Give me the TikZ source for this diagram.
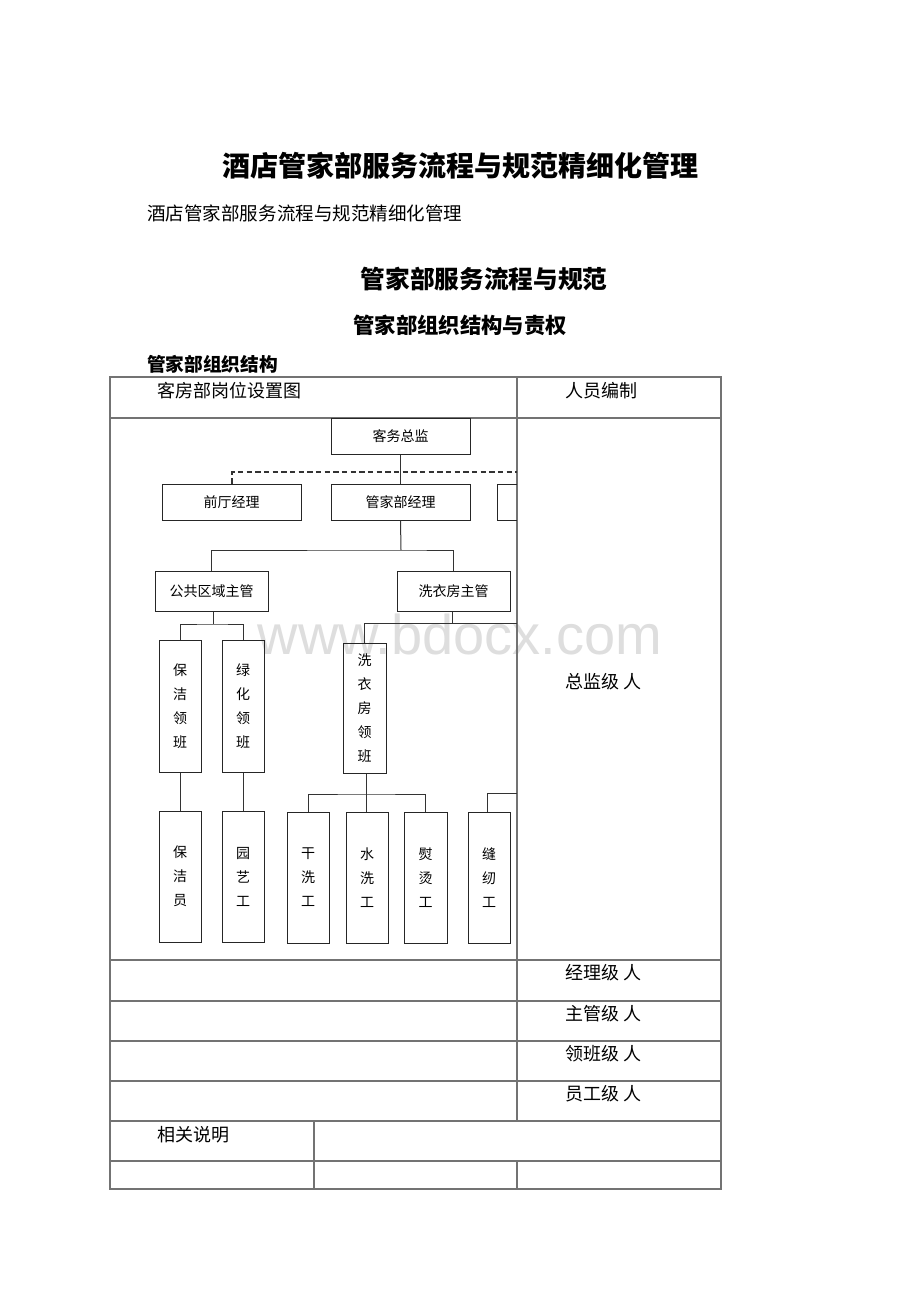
\documentclass[tikz,border=0pt]{standalone}
\usepackage{fontspec}
\setmainfont{Noto Sans CJK SC}
\newfontfamily\wmfont{Liberation Sans}
\newcommand\orgbox[6]{\node[box, minimum width={(#4-#2)*0.75pt}, minimum height={(#5-#3)*0.75pt}] (#1) at ({(#2+#4)/2},{(#3+#5)/2}) {#6};}
\begin{document}
\begin{tikzpicture}[x=0.75pt,y=-0.75pt,
  box/.style={draw=black!85, line width=0.75pt, inner sep=0pt, align=center,
    font=\fontsize{10.5}{18}\selectfont},
  tline/.style={draw=black!55, line width=0.8pt},
  conn/.style={draw=black!80, line width=0.75pt},
  ttext/.style={font=\fontsize{13.5}{16}\selectfont, inner sep=0pt, anchor=west},
  hd/.style={inner sep=0pt}]
\useasboundingbox (0,0) rectangle (920,1302);
\fill[white] (0,0) rectangle (920,1302);

% watermark
\node[hd, text=black!13, font=\wmfont\fontsize{42}{42}\selectfont] (wm) at (460,634) {www.bdocx.com};

% headings
\node[hd, font=\fontsize{21}{24}\selectfont\bfseries] (t1) at (460,166) {酒店管家部服务流程与规范精细化管理};
\node[hd, anchor=west, font=\fontsize{13.9}{16}\selectfont] (t2) at (147,213) {酒店管家部服务流程与规范精细化管理};
\node[hd, font=\fontsize{18.5}{20}\selectfont\bfseries] (t3) at (484,279) {管家部服务流程与规范};
\node[hd, font=\fontsize{16}{18}\selectfont\bfseries] (t4) at (460,325) {管家部组织结构与责权};
\node[hd, anchor=west, font=\fontsize{14}{16}\selectfont\bfseries] (t5) at (147,364) {管家部组织结构};

% table
\draw[tline] (110,377) rectangle (721,1189);
\foreach \yy in {418,960,1001,1041,1081,1121,1161} \draw[tline] (110,\yy) -- (721,\yy);
\draw[tline] (517,377) -- (517,1121);
\draw[tline] (517,1161) -- (517,1189);
\draw[tline] (314,1121) -- (314,1189);

\node[ttext] (h1) at (157,391) {客房部岗位设置图};
\node[ttext] (h2) at (565,391) {人员编制};
\node[ttext] (r0) at (565,682) {总监级 人};
\node[ttext] (r1) at (565,973) {经理级 人};
\node[ttext] (r2) at (565,1014) {主管级 人};
\node[ttext] (r3) at (565,1054) {领班级 人};
\node[ttext] (r4) at (565,1094) {员工级 人};
\node[ttext] (r5) at (157,1135) {相关说明};

% org chart boxes
\orgbox{kwzj}{331}{418}{470}{454}{客务总监}
\orgbox{qtjl}{162}{484}{301}{520}{前厅经理}
\orgbox{gjbjl}{331}{484}{470}{520}{管家部经理}
\draw[draw=black!85, line width=0.75pt] (517,484) -- (497,484) -- (497,520) -- (517,520);
\orgbox{ggqy}{155}{571}{268}{611}{公共区域主管}
\orgbox{xyfzg}{397}{571}{510}{611}{洗衣房主管}
\orgbox{bjlb}{159}{640}{201}{772}{保\\洁\\领\\班}
\orgbox{lhlb}{222}{640}{264}{772}{绿\\化\\领\\班}
\orgbox{xylb}{343}{643}{386}{773}{洗\\衣\\房\\领\\班}
\orgbox{bjy}{159}{811}{201}{942}{保\\洁\\员}
\orgbox{yyg}{222}{811}{264}{942}{园\\艺\\工}
\orgbox{gxg}{287}{812}{329}{943}{干\\洗\\工}
\orgbox{sxg}{346}{812}{388}{943}{水\\洗\\工}
\orgbox{ytg}{404}{812}{447}{943}{熨\\烫\\工}
\orgbox{frg}{468}{812}{510}{943}{缝\\纫\\工}

% coordinates
\coordinate (dl) at (232,472);
\coordinate (dr) at (517,472);
\coordinate (b1) at (401,550);
\coordinate (b2) at (213,624);
\coordinate (b3) at (452,623);
\coordinate (b3r) at (517,623);
\coordinate (b4) at (366,794);
\coordinate (b5) at (487,793);
\coordinate (b5r) at (517,793);

% connectors
\draw[conn] (kwzj.south) -- (gjbjl.north);
\draw[conn, dash pattern=on 4pt off 2.5pt, line width=0.9pt] (qtjl.north -| dl) -- (dl) -- (dr);
\draw[conn] (gjbjl.south) -- (b1);
\draw[conn] (ggqy.north) |- (b1) -| (xyfzg.north);
\draw[conn] (ggqy.south -| b2) -- (b2);
\draw[conn] (bjlb.north) |- (b2) -| (lhlb.north);
\draw[conn] (xyfzg.south -| b3) -- (b3);
\draw[conn] (xylb.north) |- (b3r);
\draw[conn] (bjlb.south) -- (bjy.north);
\draw[conn] (lhlb.south) -- (yyg.north);
\draw[conn] (xylb.south -| b4) -- (sxg.north -| b4);
\draw[conn] (gxg.north) |- (b4) -| (ytg.north);
\draw[conn] (frg.north -| b5) -- (b5) -- (b5r);
\end{tikzpicture}
\end{document}
